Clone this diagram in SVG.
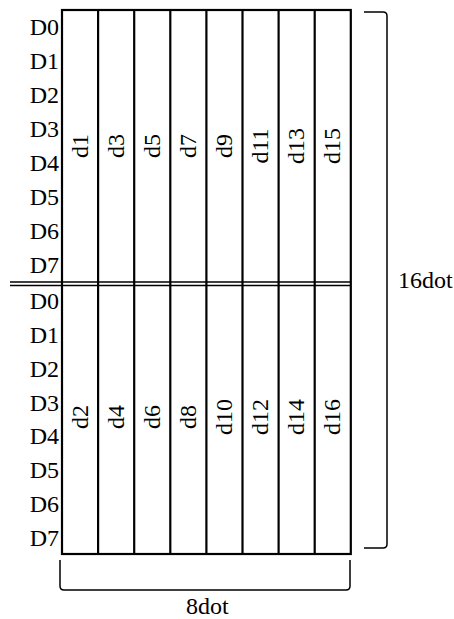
<svg xmlns="http://www.w3.org/2000/svg" width="454" height="619" viewBox="0 0 454 619">
<style>
text{font-family:"Liberation Serif","Times New Roman",serif;font-size:24px;fill:#000}
.row{text-anchor:end}
.v{text-anchor:middle}
.grid{stroke:#000;stroke-width:2.2;fill:none}
.br{stroke:#000;stroke-width:1.5;fill:none}
</style>
<rect width="454" height="619" fill="#fff"/>
<g id="rows-upper">
<text class="row" x="59" y="35">D0</text>
<text class="row" x="59" y="69">D1</text>
<text class="row" x="59" y="103">D2</text>
<text class="row" x="59" y="137">D3</text>
<text class="row" x="59" y="171">D4</text>
<text class="row" x="59" y="205">D5</text>
<text class="row" x="59" y="239">D6</text>
<text class="row" x="59" y="273">D7</text>
</g>
<g id="rows-lower">
<text class="row" x="59" y="309">D0</text>
<text class="row" x="59" y="343">D1</text>
<text class="row" x="59" y="377">D2</text>
<text class="row" x="59" y="411">D3</text>
<text class="row" x="59" y="444">D4</text>
<text class="row" x="59" y="478">D5</text>
<text class="row" x="59" y="512">D6</text>
<text class="row" x="59" y="546">D7</text>
</g>
<g id="grid" class="grid">
<rect x="62" y="10" width="288.8" height="544"/>
<path d="M98.1,10V554M134.2,10V554M170.3,10V554M206.4,10V554M242.5,10V554M278.6,10V554M314.7,10V554"/>
<path d="M10,282H351M10,285.5H351" stroke-width="1.6"/>
</g>
<g id="cols-upper">
<text class="v" transform="translate(87.5,146) rotate(-90)">d1</text>
<text class="v" transform="translate(123.6,146) rotate(-90)">d3</text>
<text class="v" transform="translate(159.7,146) rotate(-90)">d5</text>
<text class="v" transform="translate(195.8,146) rotate(-90)">d7</text>
<text class="v" transform="translate(231.9,146) rotate(-90)">d9</text>
<text class="v" transform="translate(268,146) rotate(-90)">d11</text>
<text class="v" transform="translate(304.1,146) rotate(-90)">d13</text>
<text class="v" transform="translate(340.2,146) rotate(-90)">d15</text>
</g>
<g id="cols-lower">
<text class="v" transform="translate(87.5,417) rotate(-90)">d2</text>
<text class="v" transform="translate(123.6,417) rotate(-90)">d4</text>
<text class="v" transform="translate(159.7,417) rotate(-90)">d6</text>
<text class="v" transform="translate(195.8,417) rotate(-90)">d8</text>
<text class="v" transform="translate(231.9,417) rotate(-90)">d10</text>
<text class="v" transform="translate(268,417) rotate(-90)">d12</text>
<text class="v" transform="translate(304.1,417) rotate(-90)">d14</text>
<text class="v" transform="translate(340.2,417) rotate(-90)">d16</text>
</g>
<g id="connectors" class="br">
<path d="M364,12H383Q387,12 387,16V544Q387,548 383,548H364"/>
<path d="M60,560V586Q60,590 64,590H346Q350,590 350,586V560"/>
</g>
<g id="label-16dot"><text x="398" y="288">16dot</text></g>
<g id="label-8dot"><text x="186" y="614">8dot</text></g>
</svg>
